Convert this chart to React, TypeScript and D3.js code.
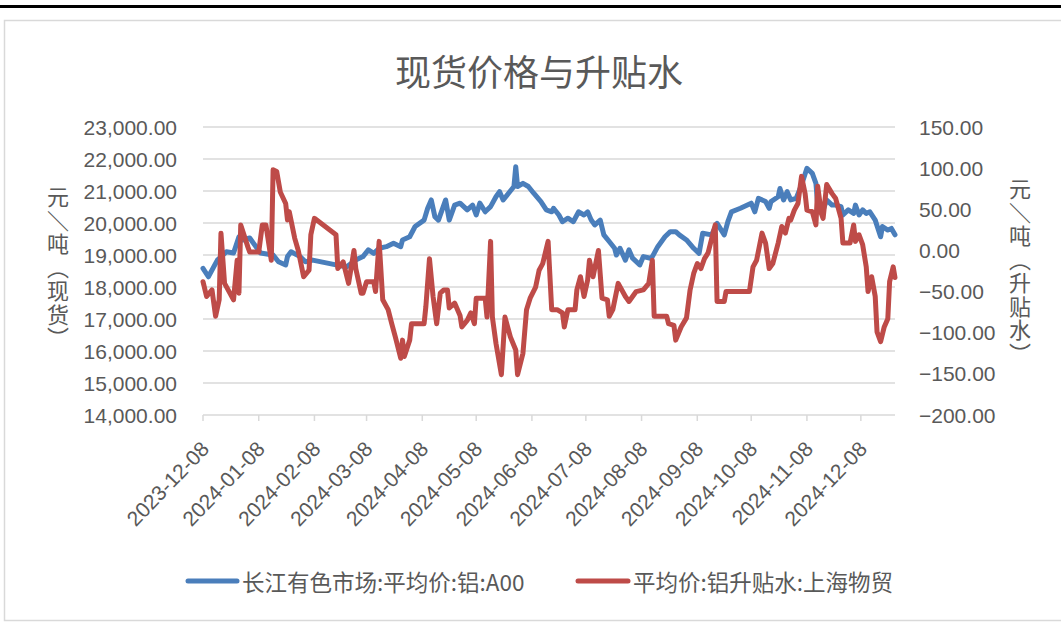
import React from "react";
import * as d3 from "d3";

const blueDates = ["2023-12-08","2023-12-11","2023-12-16","2023-12-21","2023-12-25","2023-12-28","2023-12-30","2024-01-03","2024-01-09","2024-01-16","2024-01-19","2024-01-23","2024-01-24","2024-01-26","2024-01-31","2024-02-03","2024-02-07","2024-02-20","2024-02-26","2024-03-02","2024-03-06","2024-03-09","2024-03-12","2024-03-15","2024-03-19","2024-03-23","2024-03-27","2024-03-28","2024-04-01","2024-04-04","2024-04-09","2024-04-11","2024-04-13","2024-04-15","2024-04-17","2024-04-21","2024-04-23","2024-04-26","2024-04-29","2024-05-03","2024-05-06","2024-05-08","2024-05-10","2024-05-13","2024-05-16","2024-05-19","2024-05-21","2024-05-23","2024-05-26","2024-05-29","2024-05-30","2024-05-31","2024-06-03","2024-06-06","2024-06-09","2024-06-13","2024-06-16","2024-06-19","2024-06-20","2024-06-23","2024-06-25","2024-06-28","2024-07-01","2024-07-04","2024-07-07","2024-07-09","2024-07-11","2024-07-13","2024-07-16","2024-07-18","2024-07-21","2024-07-24","2024-07-25","2024-07-27","2024-07-30","2024-08-01","2024-08-03","2024-08-07","2024-08-09","2024-08-13","2024-08-14","2024-08-17","2024-08-21","2024-08-24","2024-08-27","2024-08-29","2024-09-02","2024-09-06","2024-09-09","2024-09-11","2024-09-16","2024-09-19","2024-09-23","2024-09-25","2024-09-27","2024-10-02","2024-10-08","2024-10-10","2024-10-12","2024-10-16","2024-10-18","2024-10-19","2024-10-23","2024-10-24","2024-10-26","2024-10-28","2024-10-30","2024-11-02","2024-11-05","2024-11-08","2024-11-11","2024-11-13","2024-11-14","2024-11-17","2024-11-19","2024-11-22","2024-11-24","2024-11-27","2024-11-28","2024-12-01","2024-12-04","2024-12-05","2024-12-07","2024-12-09","2024-12-11","2024-12-13","2024-12-16","2024-12-19","2024-12-20","2024-12-23","2024-12-25","2024-12-27"];
const blueValues = [18580,18320,18840,19100,19060,19570,19470,19530,19060,19000,18790,18690,18950,19100,18950,18790,18840,18690,18630,18840,18950,19160,19050,19210,19260,19370,19260,19470,19570,19890,20090,20460,20720,20200,20090,20720,20090,20560,20620,20410,20560,20250,20620,20350,20510,20820,20980,20720,20930,21140,21760,21140,21240,21140,20930,20670,20410,20350,20460,20250,20040,20150,20040,20350,20250,20350,20090,19940,20090,19630,19420,19210,19000,19210,18840,19160,18900,18690,18950,18900,18950,19260,19570,19730,19730,19630,19470,19210,19050,19680,19630,19990,19630,20040,20350,20460,20620,20350,20770,20670,20460,20670,20820,21080,20720,20980,20720,20770,21190,21710,21550,21240,20560,20410,20720,20560,20560,20510,20250,20410,20300,20560,20250,20410,20300,20350,20090,19570,19890,19780,19830,19630];

const redDates = ["2023-12-08","2023-12-10","2023-12-13","2023-12-15","2023-12-17","2023-12-18","2023-12-20","2023-12-25","2023-12-27","2023-12-28","2023-12-29","2024-01-02","2024-01-03","2024-01-08","2024-01-10","2024-01-12","2024-01-15","2024-01-16","2024-01-18","2024-01-20","2024-01-23","2024-01-24","2024-01-25","2024-01-28","2024-01-30","2024-02-02","2024-02-05","2024-02-06","2024-02-08","2024-02-20","2024-02-21","2024-02-24","2024-02-27","2024-03-01","2024-03-02","2024-03-05","2024-03-06","2024-03-08","2024-03-12","2024-03-13","2024-03-15","2024-03-17","2024-03-20","2024-03-22","2024-03-24","2024-03-27","2024-03-28","2024-03-29","2024-04-01","2024-04-02","2024-04-09","2024-04-10","2024-04-12","2024-04-14","2024-04-16","2024-04-18","2024-04-20","2024-04-22","2024-04-23","2024-04-26","2024-04-29","2024-04-30","2024-05-03","2024-05-05","2024-05-07","2024-05-08","2024-05-13","2024-05-14","2024-05-16","2024-05-17","2024-05-19","2024-05-22","2024-05-24","2024-05-27","2024-05-30","2024-05-31","2024-06-03","2024-06-05","2024-06-07","2024-06-10","2024-06-12","2024-06-14","2024-06-17","2024-06-19","2024-06-22","2024-06-25","2024-06-26","2024-06-28","2024-07-02","2024-07-03","2024-07-05","2024-07-07","2024-07-09","2024-07-10","2024-07-12","2024-07-15","2024-07-17","2024-07-20","2024-07-21","2024-07-23","2024-07-26","2024-07-30","2024-08-01","2024-08-03","2024-08-05","2024-08-09","2024-08-12","2024-08-14","2024-08-15","2024-08-22","2024-08-23","2024-08-26","2024-08-27","2024-08-30","2024-09-02","2024-09-04","2024-09-06","2024-09-08","2024-09-10","2024-09-12","2024-09-14","2024-09-17","2024-09-18","2024-09-19","2024-09-23","2024-09-24","2024-10-07","2024-10-09","2024-10-11","2024-10-14","2024-10-16","2024-10-18","2024-10-20","2024-10-23","2024-10-25","2024-10-27","2024-10-29","2024-10-30","2024-11-01","2024-11-03","2024-11-05","2024-11-07","2024-11-08","2024-11-11","2024-11-13","2024-11-14","2024-11-16","2024-11-17","2024-11-19","2024-11-22","2024-11-24","2024-11-27","2024-11-28","2024-12-02","2024-12-04","2024-12-05","2024-12-07","2024-12-09","2024-12-11","2024-12-12","2024-12-14","2024-12-16","2024-12-17","2024-12-19","2024-12-21","2024-12-23","2024-12-24","2024-12-26","2024-12-27"];
const redValues = [-38,-56,-48,-80,-60,21,-40,-60,-12,-52,31,4,-2,-2,31,31,-12,98,96,71,57,37,47,15,0,-32,-24,19,39,19,-22,-14,-40,0,-22,-52,-52,-38,-38,-50,11,-60,-72,-89,-105,-131,-109,-129,-109,-89,-89,-68,-10,-56,-89,-52,-48,-48,-70,-64,-79,-93,-85,-76,-89,-58,-58,-81,11,-81,-113,-151,-81,-105,-121,-151,-125,-72,-58,-45,-24,-16,11,-72,-72,-76,-93,-72,-72,-48,-32,-56,-36,-12,-32,0,-58,-60,-80,-72,-40,-56,-62,-56,-50,-48,-40,-12,-80,-80,-89,-91,-109,-93,-82,-48,-28,-16,-22,-10,-3,23,31,-62,-62,-50,-50,-20,-12,21,9,-22,-16,9,29,21,39,37,49,57,90,69,49,47,31,78,45,39,80,69,63,39,9,9,31,11,19,7,-20,-50,-32,-56,-99,-111,-93,-83,-38,-20,-33];

const tickLabels = ["2023-12-08","2024-01-08","2024-02-08","2024-03-08","2024-04-08","2024-05-08","2024-06-08","2024-07-08","2024-08-08","2024-09-08","2024-10-08","2024-11-08","2024-12-08"];
const leftTicks = [14000,15000,16000,17000,18000,19000,20000,21000,22000,23000];
const rightTicks = [-200,-150,-100,-50,0,50,100,150];
const xDomain = ["2023-12-08","2024-12-27"];

const title = "现货价格与升贴水";
const seriesNames = ["长江有色市场:平均价:铝:A00", "平均价:铝升贴水:上海物贸"];
const leftTitle = "元＼吨︵现货︶";
const rightTitle = "元＼吨︵升贴水︶";

const parse = d3.timeParse("%Y-%m-%d");
const BLUE = "#4A7EBB";
const RED = "#BE4B48";
const GRID = "#D9D9D9";
const TXT = "#595959";
const CJK = "'Noto Sans CJK SC', 'Noto Sans', sans-serif";
const NUM = "'Liberation Sans', Arial, sans-serif";

const verticalStyle: any = { writingMode: "vertical-rl", textOrientation: "upright", letterSpacing: "1.5px" };

export default function App() {
  const W = 1061, H = 639;
  const x = d3.scaleTime().domain(xDomain.map((d) => parse(d) as Date)).range([203, 895]);
  const yL = d3.scaleLinear().domain([14000, 23000]).range([415, 127]);
  const yR = d3.scaleLinear().domain([-200, 150]).range([415, 127]);
  const fmt = d3.format(",.2f");

  const blueData = blueDates.map((d, i) => [parse(d) as Date, blueValues[i]] as [Date, number]);
  const redData = redDates.map((d, i) => [parse(d) as Date, redValues[i]] as [Date, number]);
  const lineL = d3.line<[Date, number]>().x((d) => x(d[0])).y((d) => yL(d[1]));
  const lineR = d3.line<[Date, number]>().x((d) => x(d[0])).y((d) => yR(d[1]));

  return (
    <svg width={W} height={H} style={{ position: "absolute", left: 0, top: 0, background: "#fff" }}>
      <rect x={0} y={0} width={W} height={H} fill="#fff" />
      <rect x={0} y={5} width={W} height={3} fill="#000" />
      <rect x={4.5} y={20.5} width={W + 10} height={600} fill="none" stroke={GRID} strokeWidth={1.5} />
      <text x={539} y={70} textAnchor="middle" dominantBaseline="central" fontFamily={CJK} fontSize={36} fill={TXT}>{title}</text>

      {leftTicks.map((t) => (
        <line key={"g" + t} x1={203} x2={895} y1={yL(t)} y2={yL(t)} stroke={GRID} strokeWidth={1.5} />
      ))}
      {tickLabels.map((t) => {
        const xx = x(parse(t) as Date);
        return <line key={"t" + t} x1={xx} x2={xx} y1={415} y2={421} stroke={GRID} strokeWidth={1.5} />;
      })}
      {leftTicks.map((t) => (
        <text key={"l" + t} x={177} y={yL(t)} textAnchor="end" dominantBaseline="central" fontFamily={NUM} fontSize={21} fill={TXT}>{fmt(t)}</text>
      ))}
      {rightTicks.map((t) => (
        <text key={"r" + t} x={919} y={yR(t)} textAnchor="start" dominantBaseline="central" fontFamily={NUM} fontSize={21} fill={TXT}>{fmt(t)}</text>
      ))}
      {tickLabels.map((t) => {
        const xx = x(parse(t) as Date);
        return (
          <text key={"x" + t} transform={`translate(${xx + 2},${445}) rotate(-46)`} textAnchor="end" dominantBaseline="central" fontFamily={NUM} fontSize={21} fill={TXT}>{t}</text>
        );
      })}

      <text x={58} y={268} textAnchor="middle" fontFamily={CJK} fontSize={22} fill={TXT} style={verticalStyle}>{leftTitle}</text>
      <text x={1020} y={272} textAnchor="middle" fontFamily={CJK} fontSize={22} fill={TXT} style={verticalStyle}>{rightTitle}</text>

      <path d={lineL(blueData) || ""} fill="none" stroke={BLUE} strokeWidth={5} strokeLinejoin="round" strokeLinecap="round" />
      <path d={lineR(redData) || ""} fill="none" stroke={RED} strokeWidth={5} strokeLinejoin="round" strokeLinecap="round" />

      <line x1={188} x2={237} y1={581} y2={581} stroke={BLUE} strokeWidth={5} strokeLinecap="round" />
      <text x={242} y={581} dominantBaseline="central" fontFamily={CJK} fontSize={22.5} fill={TXT}>{seriesNames[0]}</text>
      <line x1={578} x2={628} y1={581} y2={581} stroke={RED} strokeWidth={5} strokeLinecap="round" />
      <text x={633} y={581} dominantBaseline="central" fontFamily={CJK} fontSize={22.5} fill={TXT}>{seriesNames[1]}</text>
    </svg>
  );
}
